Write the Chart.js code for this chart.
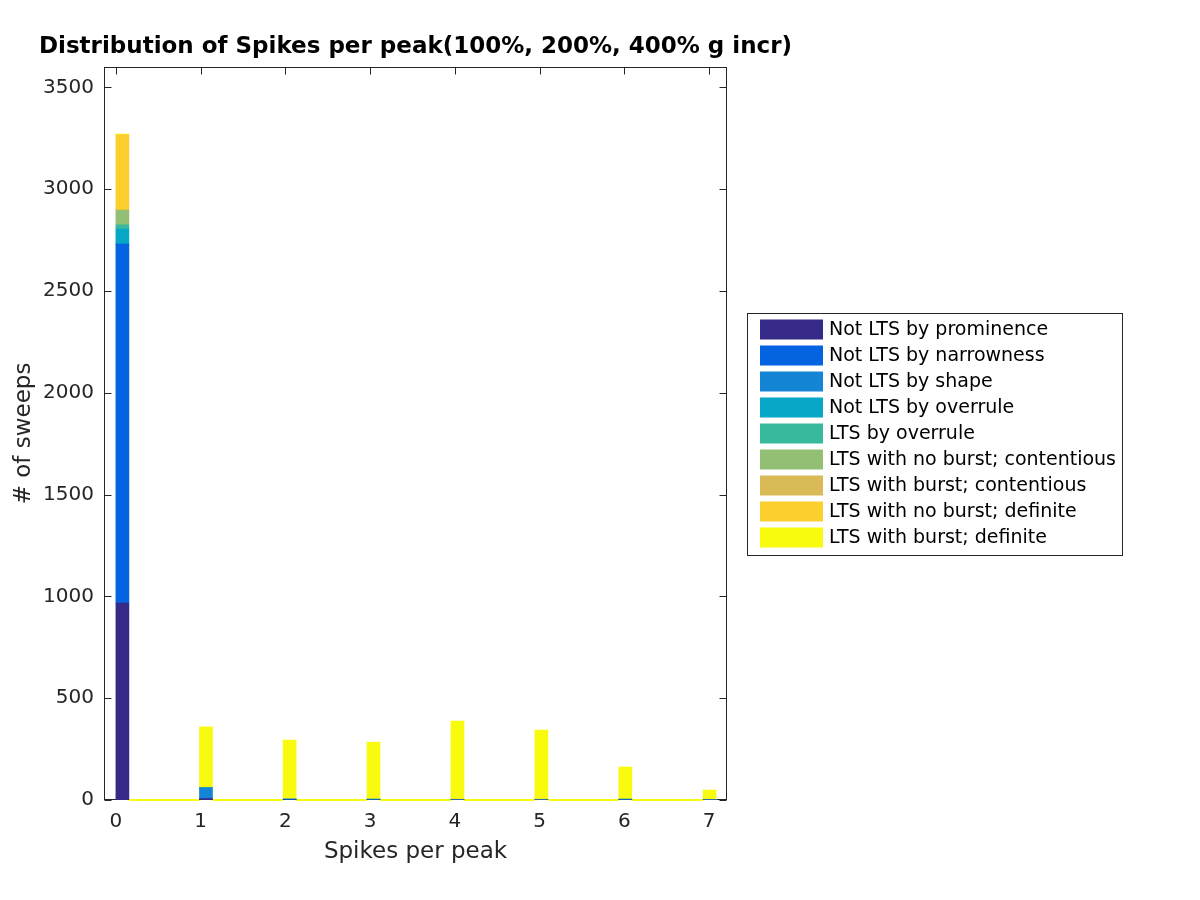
<!DOCTYPE html>
<html>
<head>
<meta charset="utf-8">
<title>Distribution of Spikes per peak</title>
<script src="https://cdn.jsdelivr.net/npm/chart.js@4.4.1/dist/chart.umd.min.js"></script>
<style>
  html, body { margin: 0; padding: 0; background: #fff; }
  #wrap { width: 1200px; height: 900px; }
</style>
</head>
<body>
<div id="wrap"><canvas id="chart" width="1200" height="900"></canvas></div>
<script>
// --- data ---
const binCenters = [0.077, 1.063, 2.05, 3.04, 4.03, 5.02, 6.01, 7.005];
const binWidth = 0.15;
const xTicks = [0, 1, 2, 3, 4, 5, 6, 7];
const yTicks = [0, 500, 1000, 1500, 2000, 2500, 3000, 3500];

const chartTitle = "Distribution of Spikes per peak(100%, 200%, 400% g incr)";

const seriesLabels = [
    "Not LTS by prominence",
    "Not LTS by narrowness",
    "Not LTS by shape",
    "Not LTS by overrule",
    "LTS by overrule",
    "LTS with no burst; contentious",
    "LTS with burst; contentious",
    "LTS with no burst; definite",
    "LTS with burst; definite"
];
const seriesColors = [
    "#352a87", "#0363e1", "#1485d4", "#06a7c6", "#38b99e",
    "#92bf73", "#d9ba56", "#fcce2e", "#f9fb0e"
];

const notByProminence   = [967, 7, 0, 0, 0, 0, 0, 0];
const notByNarrowness   = [1763, 0, 4, 0, 0, 0, 0, 0];
const notByShape        = [0, 53, 0, 0, 0, 0, 0, 0];
const notByOverrule     = [74, 0, 0, 4, 0, 0, 4, 0];
const ltsByOverrule     = [21, 0, 0, 0, 0, 0, 0, 0];
const noBurstContent    = [72, 0, 0, 0, 0, 0, 0, 0];
const burstContent      = [0, 0, 0, 0, 4, 4, 0, 0];
const noBurstDefinite   = [371, 0, 0, 0, 0, 0, 0, 0];
const burstDefinite     = [3, 299, 290, 280, 383, 339, 158, 49];

const seriesValues = [
    notByProminence, notByNarrowness, notByShape, notByOverrule, ltsByOverrule,
    noBurstContent, burstContent, noBurstDefinite, burstDefinite
];

const textColor = "#262626";
const fontFamily = "'DejaVu Sans', sans-serif";

// bar datasets
const datasets = seriesLabels.map((label, i) => ({
    type: "bar",
    label: label,
    data: binCenters.map((c, k) => ({ x: c, y: seriesValues[i][k] })),
    backgroundColor: seriesColors[i],
    borderWidth: 0,
    barThickness: 13
}));

// empty bins between the bars show as a thin yellow line on the baseline
const baseline = [];
for (let k = 0; k < binCenters.length - 1; k++) {
    baseline.push({ x: binCenters[k] + binWidth / 2, y: 0 });
    baseline.push({ x: binCenters[k + 1] - binWidth / 2, y: 0 });
    baseline.push({ x: (binCenters[k] + binCenters[k + 1]) / 2 + 0.001, y: null });
}
datasets.push({
    type: "line",
    label: "",
    data: baseline,
    borderColor: seriesColors[8],
    borderWidth: 2,
    pointRadius: 0,
    spanGaps: false,
    clip: false,
    stack: "baseline"
});

// axes box with inward ticks (drawn before the bars)
const boxAxes = {
    id: "boxAxes",
    beforeDatasetsDraw(chart) {
        const { ctx, chartArea: a, scales: { x, y } } = chart;
        const L = Math.round(a.left) + 0.5, R = Math.round(a.right) - 0.5;
        const T = Math.round(a.top) + 0.5, B = Math.round(a.bottom) - 0.5;
        ctx.save();
        ctx.strokeStyle = textColor;
        ctx.lineWidth = 1;
        ctx.strokeRect(L, T, R - L, B - T);
        ctx.beginPath();
        y.ticks.forEach(t => {
            const py = Math.round(y.getPixelForValue(t.value)) + 0.5;
            ctx.moveTo(L, py); ctx.lineTo(L + 7, py);
            ctx.moveTo(R, py); ctx.lineTo(R - 7, py);
        });
        x.ticks.forEach(t => {
            const px = Math.round(x.getPixelForValue(t.value)) + 0.5;
            ctx.moveTo(px, T); ctx.lineTo(px, T + 7);
            ctx.moveTo(px, B); ctx.lineTo(px, B - 7);
        });
        ctx.stroke();
        ctx.restore();
    }
};

// title centred over the axes, boxed legend to the right
const titleAndLegend = {
    id: "titleAndLegend",
    afterDraw(chart) {
        const { ctx, chartArea: a } = chart;
        ctx.save();
        ctx.fillStyle = "#000";
        ctx.font = "bold 23px " + fontFamily;
        ctx.textAlign = "center";
        ctx.textBaseline = "middle";
        ctx.fillText(chartTitle, (a.left + a.right) / 2, a.top - 20);

        const items = chart.data.datasets.filter(d => d.type === "bar");
        const rowH = 26;
        const w = 375, h = items.length * rowH + 8;
        const lx = Math.round(a.right + 20) + 0.5;
        const ly = Math.round((a.top + a.bottom) / 2 - h / 2) + 0.5;
        ctx.fillStyle = "#fff";
        ctx.fillRect(lx, ly, w, h);
        ctx.strokeStyle = textColor;
        ctx.lineWidth = 1;
        ctx.strokeRect(lx, ly, w, h);
        ctx.font = "19px " + fontFamily;
        ctx.textAlign = "left";
        items.forEach((d, i) => {
            const cy = ly + 16 + i * rowH;
            ctx.fillStyle = d.backgroundColor;
            ctx.fillRect(lx + 12.5, cy - 10, 63, 20);
            ctx.fillStyle = "#000";
            ctx.fillText(d.label, lx + 81.5, cy + 1);
        });
        ctx.restore();
    }
};

const ctx = document.getElementById("chart").getContext("2d");
new Chart(ctx, {
    type: "bar",
    data: { datasets: datasets },
    options: {
        responsive: false,
        animation: false,
        devicePixelRatio: 1,
        layout: { padding: { left: 0, right: 473, top: 67, bottom: 0 } },
        plugins: {
            legend: { display: false },
            tooltip: { enabled: false },
            title: { display: false }
        },
        scales: {
            x: {
                type: "linear",
                min: -0.14,
                max: 7.21,
                offset: false,
                stacked: true,
                grid: { display: false, drawTicks: false, offset: false },
                border: { display: false },
                afterBuildTicks: s => { s.ticks = xTicks.map(v => ({ value: v })); },
                afterFit: s => { s.height = 100; },
                ticks: {
                    color: textColor,
                    padding: 10,
                    maxRotation: 0,
                    font: { family: fontFamily, size: 20 },
                    callback: v => String(v)
                },
                title: {
                    display: true,
                    text: "Spikes per peak",
                    color: textColor,
                    font: { family: fontFamily, size: 23 },
                    padding: { top: 0, bottom: 34 }
                }
            },
            y: {
                min: 0,
                max: 3600,
                stacked: true,
                grid: { display: false, drawTicks: false },
                border: { display: false },
                afterBuildTicks: s => { s.ticks = yTicks.map(v => ({ value: v })); },
                afterFit: s => { s.width = 104; },
                ticks: {
                    color: textColor,
                    padding: 10,
                    font: { family: fontFamily, size: 20 },
                    callback: v => String(v)
                },
                title: {
                    display: true,
                    text: "# of sweeps",
                    color: textColor,
                    font: { family: fontFamily, size: 23 },
                    padding: { top: 10, bottom: 10 }
                }
            }
        }
    },
    plugins: [boxAxes, titleAndLegend]
});
</script>
</body>
</html>
